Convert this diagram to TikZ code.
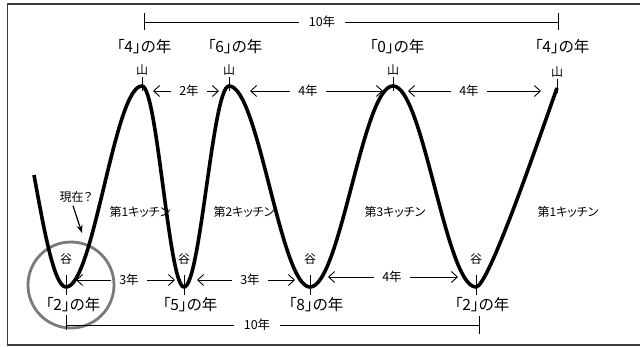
\documentclass[tikz,border=0pt]{standalone}
\usepackage{fontspec}
\setmainfont{Noto Sans CJK JP}[RawFeature=+palt]
\usepackage{tikz}
\usetikzlibrary{arrows.meta,calc}
\definecolor{cyink}  {HTML}{000000}
\definecolor{cyframe}{HTML}{3C3C3C}
\definecolor{cyring} {HTML}{7A7A7A}
\tikzset{
  cywave/.style={draw=cyink, line width=3.6pt, line join=round},
  cytick/.style={draw=cyink, line width=0.9pt},
  cydim/.style={-{Straight Barb[length=6pt,width=11pt]}, draw=cyink, line width=0.9pt},
  cynow/.style={-{Stealth[length=8pt,width=6pt]}, draw=cyink, line width=1.2pt},
  cybig/.style={font=\fontsize{15.5}{17}\selectfont, inner sep=0pt},
  cysmall/.style={font=\fontsize{12}{13}\selectfont, inner sep=0pt},
  cykitchen/.style={font=\fontsize{12}{13}\selectfont, inner sep=0pt},
  cygap/.style={font=\fontsize{12.5}{13}\selectfont, inner ysep=0pt, inner xsep=8pt},
  cyspan/.style={font=\fontsize{12.5}{13}\selectfont, inner ysep=0pt, inner xsep=10pt},
}

\begin{document}
\begin{tikzpicture}[x=1pt,y=-1pt]
  \useasboundingbox (0,0) rectangle (640,347);
  \draw[cyframe,line width=1.8pt] (640,4) -- (7.5,4) -- (7.5,345) -- (640,345);

  % turning points of the wave
  \coordinate (s)  at (34,175);
  \coordinate (v0) at (66,287);
  \coordinate (p1) at (142,86);
  \coordinate (v1) at (184,287);
  \coordinate (p2) at (229,86);
  \coordinate (v2) at (310,287);
  \coordinate (p3) at (393,86);
  \coordinate (v3) at (476,287);
  \coordinate (p4) at (557,88);

  % kitchens (the wave runs over them)
  \node[cykitchen] (k1) at (140,212) {第1キッチン};
  \node[cykitchen] (k2) at (244,212) {第2キッチン};
  \node[cykitchen] (k3) at (395,212) {第3キッチン};
  \node[cykitchen] (k4) at (568,212) {第1キッチン};

  \draw[cyring,line width=2.8pt] (71,285) circle[radius=43pt];

  \draw[cywave] (s) sin (v0)
    cos ($(v0)!.5!(p1)$) sin (p1) cos ($(p1)!.5!(v1)$) sin (v1)
    cos ($(v1)!.5!(p2)$) sin (p2) cos ($(p2)!.5!(v2)$) sin (v2)
    cos ($(v2)!.5!(p3)$) sin (p3) cos ($(p3)!.5!(v3)$) sin (v3)
    .. controls (488,287) and (535,150) .. (p4);

  % ticks at tops and bottoms
  \foreach \p in {p1,p2,p3,p4}
    {\draw[cytick] ([yshift=9pt]\p) -- ([yshift=-5pt]\p);
     \node[cysmall] at ([yshift=16pt]\p) {山};}
  \foreach \v in {v0,v1,v2,v3}
    {\draw[cytick] ([yshift=12pt]\v) -- ([yshift=-8pt]\v);
     \node[cysmall] at ([yshift=28pt]\v) {谷};}

  \node[cybig] (y1) at (144,47) {「4」の年};
  \node[cybig] (y2) at (235,47) {「6」の年};
  \node[cybig] (y3) at (397,47) {「0」の年};
  \node[cybig] (y4) at (562,47) {「4」の年};
  \node[cybig] (y5) at (73,305) {「2」の年};
  \node[cybig] (y6) at (190,305) {「5」の年};
  \node[cybig] (y7) at (316,305) {「8」の年};
  \node[cybig] (y8) at (482,305) {「2」の年};

  % spans between turning points
  \foreach \lab/\cx/\cy/\tl/\tr [count=\i] in
      {2年/189/91/153/219, 4年/308/91/250/383, 4年/469/91/408/541,
       3年/129/280/76/175, 3年/250/280/197/295, 4年/392/277/328/458}
    {\node[cygap] (gap\i) at (\cx,\cy) {\lab};
     \coordinate (gl\i) at (\tl,\cy);
     \coordinate (gr\i) at (\tr,\cy);
     \draw[cydim] (gap\i.west) -- (gl\i);
     \draw[cydim] (gap\i.east) -- (gr\i);}

  % ten-year brackets
  \coordinate (ta) at (144,22);
  \coordinate (tb) at (558,22);
  \node[cyspan] (ten1) at (322,22) {10年};
  \draw[cytick] (ta) -- (ten1.west);
  \draw[cytick] (ten1.east) -- (tb);
  \draw[cytick] ([yshift=9pt]ta) -- ([yshift=-8pt]ta);
  \draw[cytick] ([yshift=9pt]tb) -- ([yshift=-8pt]tb);

  \coordinate (ba) at (66,325);
  \coordinate (bb) at (479,325);
  \node[cyspan] (ten2) at (257,325) {10年};
  \draw[cytick] (ba) -- (ten2.west);
  \draw[cytick] (ten2.east) -- (bb);
  \draw[cytick] ([yshift=10pt]ba) -- ([yshift=-5pt]ba);
  \draw[cytick] ([yshift=9pt]bb) -- ([yshift=-9pt]bb);

  \node[cysmall] (now) at (76,197) {現在？};
  \coordinate (nowtip) at (82,233);
  \draw[cynow] ([xshift=-3pt,yshift=-3pt]now.south) -- (nowtip);
\end{tikzpicture}
\end{document}
